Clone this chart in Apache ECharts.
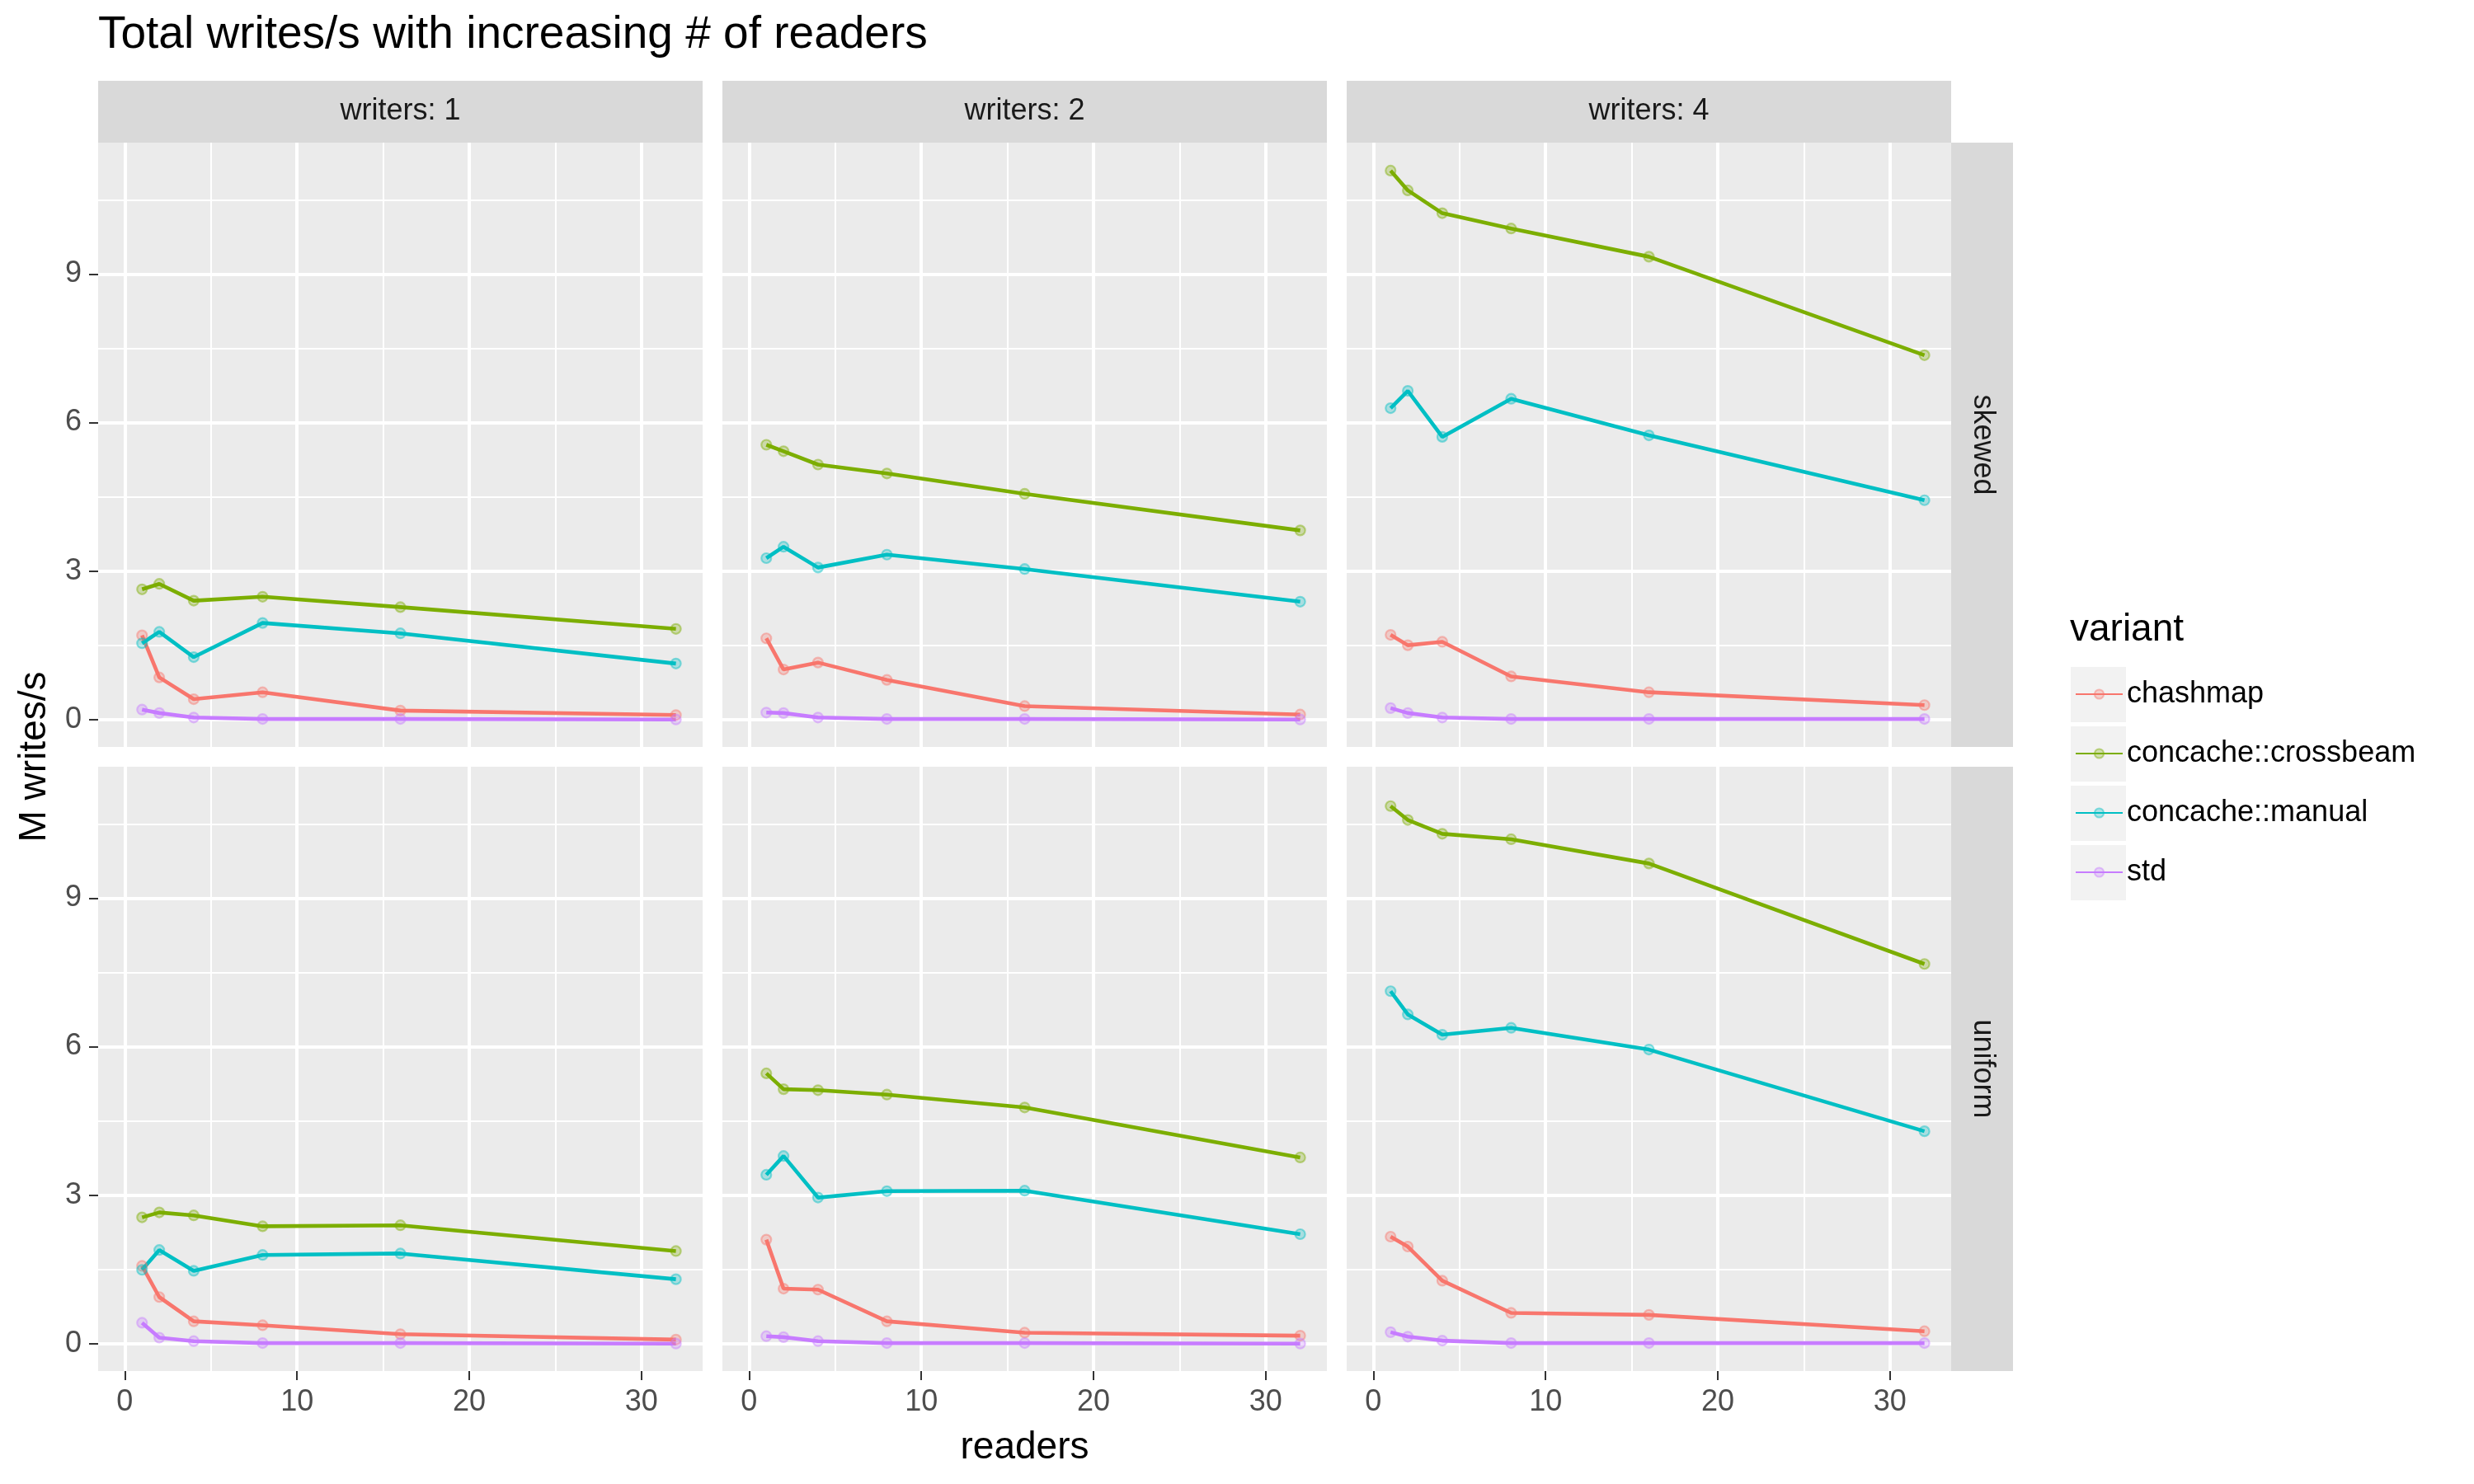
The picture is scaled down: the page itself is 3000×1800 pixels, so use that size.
<!DOCTYPE html>
<html><head><meta charset="utf-8">
<script src="https://cdn.jsdelivr.net/npm/echarts@6/dist/echarts.min.js"></script>
<style>html,body{margin:0;padding:0;background:#fff}#c{width:3000px;height:1800px}</style>
</head><body><div id="c"></div>
<script>
// ---------- data ----------
const readers = [1, 2, 4, 8, 16, 32];
const variants = ['chashmap', 'concache::crossbeam', 'concache::manual', 'std'];
const writerCounts = [1, 2, 4];
const distributions = ['skewed', 'uniform'];
const yTicks = [0, 3, 6, 9];
const yMinorTicks = [1.5, 4.5, 7.5, 10.5];
const xTicks = [0, 10, 20, 30];
const xMinorTicks = [5, 15, 25];

// skewed, writers: 1
const skewed_w1_chashmap  = [1.70, 0.85, 0.41, 0.55, 0.18, 0.09];
const skewed_w1_crossbeam = [2.63, 2.74, 2.40, 2.48, 2.27, 1.83];
const skewed_w1_manual    = [1.54, 1.77, 1.26, 1.95, 1.74, 1.13];
const skewed_w1_std       = [0.20, 0.13, 0.04, 0.01, 0.01, 0.00];
// skewed, writers: 2
const skewed_w2_chashmap  = [1.64, 1.01, 1.15, 0.80, 0.27, 0.10];
const skewed_w2_crossbeam = [5.55, 5.42, 5.15, 4.97, 4.56, 3.82];
const skewed_w2_manual    = [3.26, 3.49, 3.07, 3.33, 3.04, 2.38];
const skewed_w2_std       = [0.14, 0.13, 0.04, 0.01, 0.01, 0.00];
// skewed, writers: 4
const skewed_w4_chashmap  = [1.71, 1.50, 1.57, 0.87, 0.55, 0.29];
const skewed_w4_crossbeam = [11.09, 10.69, 10.23, 9.92, 9.35, 7.36];
const skewed_w4_manual    = [6.29, 6.64, 5.71, 6.48, 5.74, 4.43];
const skewed_w4_std       = [0.23, 0.13, 0.04, 0.01, 0.01, 0.01];
// uniform, writers: 1
const uniform_w1_chashmap  = [1.57, 0.94, 0.45, 0.37, 0.19, 0.08];
const uniform_w1_crossbeam = [2.55, 2.65, 2.59, 2.37, 2.39, 1.87];
const uniform_w1_manual    = [1.49, 1.89, 1.47, 1.79, 1.82, 1.30];
const uniform_w1_std       = [0.42, 0.12, 0.05, 0.01, 0.01, 0.00];
// uniform, writers: 2
const uniform_w2_chashmap  = [2.10, 1.11, 1.09, 0.45, 0.22, 0.16];
const uniform_w2_crossbeam = [5.46, 5.14, 5.12, 5.03, 4.77, 3.76];
const uniform_w2_manual    = [3.41, 3.79, 2.95, 3.08, 3.09, 2.21];
const uniform_w2_std       = [0.15, 0.13, 0.05, 0.01, 0.01, 0.00];
// uniform, writers: 4
const uniform_w4_chashmap  = [2.16, 1.96, 1.27, 0.62, 0.58, 0.25];
const uniform_w4_crossbeam = [10.86, 10.58, 10.30, 10.19, 9.70, 7.67];
const uniform_w4_manual    = [7.12, 6.65, 6.24, 6.38, 5.94, 4.29];
const uniform_w4_std       = [0.23, 0.14, 0.06, 0.01, 0.01, 0.01];

const panelData = {
  skewed: [
    [skewed_w1_chashmap, skewed_w1_crossbeam, skewed_w1_manual, skewed_w1_std],
    [skewed_w2_chashmap, skewed_w2_crossbeam, skewed_w2_manual, skewed_w2_std],
    [skewed_w4_chashmap, skewed_w4_crossbeam, skewed_w4_manual, skewed_w4_std]
  ],
  uniform: [
    [uniform_w1_chashmap, uniform_w1_crossbeam, uniform_w1_manual, uniform_w1_std],
    [uniform_w2_chashmap, uniform_w2_crossbeam, uniform_w2_manual, uniform_w2_std],
    [uniform_w4_chashmap, uniform_w4_crossbeam, uniform_w4_manual, uniform_w4_std]
  ]
};

// ---------- style / layout ----------
const colors = ['#F8766D', '#7CAE00', '#00BFC4', '#C77CFF'];
const fadeFill = ['rgba(248,118,109,0.28)', 'rgba(124,174,0,0.28)', 'rgba(0,191,196,0.28)', 'rgba(199,124,255,0.28)'];
const fadeBorder = ['rgba(248,118,109,0.45)', 'rgba(124,174,0,0.45)', 'rgba(0,191,196,0.45)', 'rgba(199,124,255,0.45)'];
const FONT = '"Liberation Sans", Arial, Helvetica, sans-serif';
const colLeft = [119, 876, 1633];
const rowTop = [173, 930];
const PW = 733, PH = 733;
const STRIP = 75;
const Y_MIN = -0.555, Y_MAX = 11.655;
const X_MIN = -1.55, X_MAX = 33.55;

const grids = [], xAxes = [], yAxes = [], series = [], graphics = [];

distributions.forEach((dist, r) => {
  writerCounts.forEach((w, c) => {
    const gi = grids.length;
    grids.push({ left: colLeft[c], top: rowTop[r], width: PW, height: PH,
      show: true, backgroundColor: '#EBEBEB', borderWidth: 0, containLabel: false });
    // minor axes (grid only)
    xAxes.push({ type: 'value', gridIndex: gi, min: X_MIN, max: X_MAX, position: 'bottom',
      axisLine: { show: false, onZero: false },
      axisTick: { show: false, customValues: xMinorTicks },
      axisLabel: { show: false, customValues: xMinorTicks },
      splitLine: { show: true, lineStyle: { color: '#FFFFFF', width: 2 } } });
    const xMajorIdx = xAxes.length;
    xAxes.push({ type: 'value', gridIndex: gi, min: X_MIN, max: X_MAX, position: 'bottom',
      axisLine: { show: false, onZero: false },
      axisTick: { show: r === 1, customValues: xTicks, length: 11, lineStyle: { color: '#333333', width: 2 } },
      axisLabel: { show: r === 1, customValues: xTicks, color: '#4D4D4D', fontSize: 36, fontFamily: FONT, margin: 20 },
      splitLine: { show: true, lineStyle: { color: '#FFFFFF', width: 4 } } });
    yAxes.push({ type: 'value', gridIndex: gi, min: Y_MIN, max: Y_MAX, position: 'left',
      axisLine: { show: false, onZero: false },
      axisTick: { show: false, customValues: yMinorTicks },
      axisLabel: { show: false, customValues: yMinorTicks },
      splitLine: { show: true, lineStyle: { color: '#FFFFFF', width: 2 } } });
    const yMajorIdx = yAxes.length;
    yAxes.push({ type: 'value', gridIndex: gi, min: Y_MIN, max: Y_MAX, position: 'left',
      axisLine: { show: false, onZero: false },
      axisTick: { show: c === 0, customValues: yTicks, length: 11, lineStyle: { color: '#333333', width: 2 } },
      axisLabel: { show: c === 0, customValues: yTicks, color: '#4D4D4D', fontSize: 36, fontFamily: FONT, margin: 20 },
      splitLine: { show: true, lineStyle: { color: '#FFFFFF', width: 4 } } });

    variants.forEach((v, k) => {
      const vals = panelData[dist][c][k];
      series.push({
        type: 'line', name: v, xAxisIndex: xMajorIdx, yAxisIndex: yMajorIdx,
        data: readers.map((rd, i) => [rd, vals[i]]),
        symbol: 'circle', symbolSize: 12, showSymbol: true,
        lineStyle: { color: colors[k], width: 4.6 },
        itemStyle: { color: fadeFill[k], borderColor: fadeBorder[k], borderWidth: 2.2 },
        emphasis: { disabled: true }, silent: true, z: 3
      });
    });
  });
});

// top strips
writerCounts.forEach((w, c) => {
  graphics.push({ type: 'rect', shape: { x: colLeft[c], y: rowTop[0] - STRIP, width: PW, height: STRIP },
    style: { fill: '#D9D9D9' }, silent: true });
  graphics.push({ type: 'text', x: colLeft[c] + PW / 2, y: rowTop[0] - STRIP / 2,
    style: { text: 'writers: ' + w, fill: '#1A1A1A', font: '36px ' + FONT, textAlign: 'center', textVerticalAlign: 'middle' }, silent: true });
});
// right strips
distributions.forEach((d, r) => {
  const sx = colLeft[2] + PW;
  graphics.push({ type: 'rect', shape: { x: sx, y: rowTop[r], width: STRIP, height: PH },
    style: { fill: '#D9D9D9' }, silent: true });
  graphics.push({ type: 'text', x: sx + STRIP / 2, y: rowTop[r] + PH / 2, rotation: -Math.PI / 2,
    style: { text: d, fill: '#1A1A1A', font: '36px ' + FONT, textAlign: 'center', textVerticalAlign: 'middle' }, silent: true });
});
// axis titles
graphics.push({ type: 'text', x: (colLeft[0] + colLeft[2] + PW) / 2, y: 1756,
  style: { text: 'readers', fill: '#000', font: '46px ' + FONT, textAlign: 'center', textVerticalAlign: 'middle' }, silent: true });
graphics.push({ type: 'text', x: 42, y: (rowTop[0] + rowTop[1] + PH) / 2, rotation: Math.PI / 2,
  style: { text: 'M writes/s', fill: '#000', font: '46px ' + FONT, textAlign: 'center', textVerticalAlign: 'middle' }, silent: true });
// legend title and key backgrounds
graphics.push({ type: 'text', x: 2510, y: 764,
  style: { text: 'variant', fill: '#000', font: '46px ' + FONT, textAlign: 'left', textVerticalAlign: 'middle' }, silent: true });
variants.forEach((v, k) => {
  graphics.push({ type: 'rect', shape: { x: 2511, y: 809 + 72 * k, width: 67, height: 67 },
    style: { fill: '#F2F2F2' }, silent: true, z: -1 });
});

const chart = echarts.init(document.getElementById('c'), null, { width: 3000, height: 1800, renderer: 'canvas' });
chart.setOption({
  animation: false,
  backgroundColor: '#FFFFFF',
  title: { text: 'Total writes/s with increasing # of readers', left: 119, top: 15, padding: 0,
    textStyle: { fontSize: 55, fontWeight: 'normal', color: '#000', fontFamily: FONT } },
  legend: { orient: 'vertical', left: 2516, top: 806, padding: 0, itemWidth: 57, itemHeight: 14,
    itemGap: 0, itemTextGap: 30, selectedMode: false, data: variants,
    textStyle: { fontSize: 36, lineHeight: 72, color: '#000', fontFamily: FONT } },
  grid: grids, xAxis: xAxes, yAxis: yAxes, series: series,
  graphic: { elements: graphics }
});
</script></body></html>
